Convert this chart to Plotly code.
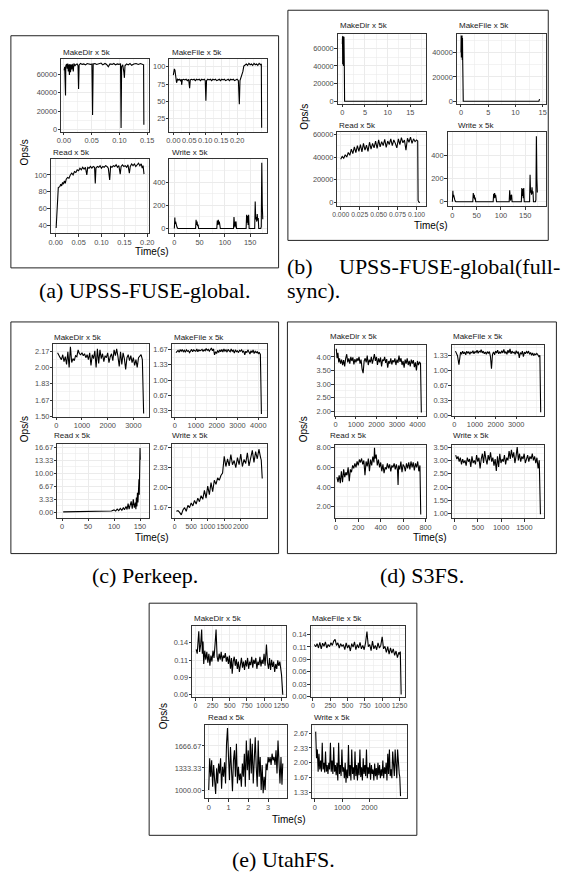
import plotly.graph_objects as go

W, H = 567, 880

# ======================= DATA (time, ops/s) =======================
# (a) UPSS-FUSE-global
A_MAKEDIR = [(0.0005,64000),(0.0015,68000),(0.003,37000),(0.0035,69000),(0.005,71000),(0.006,66000),(0.007,71500),
             (0.008,63000),(0.009,70500),(0.010,59000),(0.011,71000),(0.012,62000),(0.013,70000),(0.014,65000),
             (0.015,71000),(0.017,63000),(0.018,71500),(0.020,69000),(0.022,70500),(0.024,71000),(0.0255,69000),
             (0.0265,44000),(0.0275,70000),(0.030,71500),(0.033,70500),(0.036,71000),(0.039,70000),(0.042,71500),
             (0.045,71000),(0.048,70500),(0.0505,71000),(0.0517,16000),(0.0528,71000),(0.056,71500),(0.059,70500),
             (0.063,71000),(0.067,72000),(0.070,70000),(0.074,71500),(0.077,70500),(0.080,68000),(0.083,71000),
             (0.087,70500),(0.090,71500),(0.093,70000),(0.096,71000),(0.099,70500),(0.102,71000),(0.103,1800),
             (0.104,68000),(0.106,70000),(0.108,62000),(0.109,56000),(0.110,69000),(0.113,71000),(0.116,70000),
             (0.119,71500),(0.122,69500),(0.126,71000),(0.130,71500),(0.134,70500),(0.138,71500),(0.142,71000),
             (0.1435,70000),(0.144,5400)]
A_MAKEFILE = [(0.000,88),(0.002,92),(0.003,97),(0.005,95),(0.008,82),(0.010,77),(0.013,82),(0.016,81),(0.019,82),
              (0.022,80),(0.025,82),(0.026,74),(0.028,81),(0.032,82),(0.036,81),(0.040,82),(0.044,80),(0.048,82),
              (0.051,69),(0.053,81),(0.057,82),(0.061,81),(0.065,82),(0.069,80),(0.073,82),(0.077,81),(0.081,82),
              (0.085,80),(0.089,82),(0.093,81),(0.097,82),(0.100,80),(0.102,51),(0.104,80),(0.108,82),(0.112,81),
              (0.116,82),(0.120,80),(0.124,82),(0.128,81),(0.132,82),(0.136,80),(0.140,81),(0.144,82),(0.148,80),
              (0.152,82),(0.156,81),(0.160,82),(0.164,80),(0.168,81),(0.172,82),(0.176,80),(0.180,82),(0.184,81),
              (0.188,82),(0.192,80),(0.196,81),(0.200,82),(0.204,80),(0.207,46),(0.209,80),(0.212,84),(0.215,86),
              (0.218,93),(0.221,101),(0.225,103),(0.229,104),(0.233,102),(0.237,105),(0.241,103),(0.245,104),
              (0.249,102),(0.253,105),(0.257,103),(0.261,104),(0.265,102),(0.269,105),(0.273,103),(0.276,104),
              (0.277,12)]
A_READ = [(0.001,37),(0.004,60),(0.0057,85),(0.009,86),(0.011,89),(0.013,87),(0.015,91),(0.017,89),(0.019,93),
          (0.021,90),(0.023,95),(0.026,97),(0.029,96),(0.032,100),(0.035,102),(0.038,100),(0.041,104),(0.044,103),
          (0.047,106),(0.050,105),(0.053,108),(0.056,106),(0.059,109),(0.062,107),(0.065,109),(0.068,100),
          (0.070,109),(0.073,108),(0.076,110),(0.079,108),(0.082,110),(0.085,109),(0.0865,90),(0.088,108),
          (0.091,110),(0.094,109),(0.097,111),(0.100,108),(0.103,110),(0.106,109),(0.109,111),(0.112,110),
          (0.115,108),(0.118,94),(0.120,110),(0.123,109),(0.126,111),(0.129,110),(0.132,112),(0.135,109),
          (0.138,111),(0.141,101),(0.143,110),(0.146,112),(0.149,110),(0.152,111),(0.155,109),(0.158,112),
          (0.161,102),(0.163,110),(0.166,113),(0.169,111),(0.172,113),(0.175,110),(0.178,112),(0.181,114),
          (0.184,111),(0.187,113),(0.189,108),(0.191,111),(0.193,101)]
A_WRITE = [(0,0),(1,95),(1.5,40),(2.5,60),(3.5,25),(5,15),(6,5),(7,0),(42,0),(43,75),(44,30),(45,60),(46,20),
           (47,35),(48,0),(84,0),(85,70),(86,30),(87,75),(88,35),(89,60),(90,20),(91,0),(117,0),(118,100),
           (119,40),(120,10),(121,55),(122,60),(123,0),(142,0),(143,120),(144,50),(145,110),(146,30),(147,120),
           (148,0),(159,0),(160,235),(161,80),(162,100),(163,60),(164,125),(165,70),(166,90),(167,0),(171,0),
           (172,15),(173,570),(174,200),(175,80)]

# (b) UPSS-FUSE-global(full-sync)
B_MAKEDIR = [(0.00,65000),(0.04,73500),(0.08,42000),(0.12,74000),(0.16,50000),(0.20,72500),(0.24,40000),
             (0.28,71000),(0.32,45000),(0.36,73000),(0.40,58000),(0.44,38000),(0.50,0),(17.5,0),(17.6,1200),
             (17.65,800)]
B_MAKEFILE = [(0.00,40000),(0.04,54000),(0.08,36000),(0.12,53500),(0.16,38000),(0.20,54000),(0.24,34000),
              (0.28,52000),(0.32,33500),(0.36,9000),(0.42,0),(14.3,0),(14.4,1500),(14.45,1200)]
B_READ = [(0.000,38000),(0.002,40500),(0.004,39000),(0.006,42000),(0.008,40000),(0.010,44000),(0.012,41500),
          (0.014,47000),(0.016,43000),(0.018,49000),(0.020,44000),(0.022,50000),(0.024,45000),(0.026,51000),
          (0.028,44500),(0.030,52000),(0.032,46000),(0.034,50500),(0.036,45000),(0.038,53000),(0.040,47000),
          (0.042,52000),(0.044,48000),(0.046,54000),(0.048,47500),(0.050,55000),(0.052,49000),(0.054,53500),
          (0.056,50000),(0.058,55500),(0.060,48500),(0.062,54000),(0.064,51000),(0.066,56000),(0.068,50000),
          (0.070,55000),(0.072,52000),(0.074,48000),(0.076,56000),(0.078,51000),(0.080,57000),(0.082,52500),
          (0.084,55000),(0.086,46000),(0.088,56500),(0.090,53000),(0.092,57500),(0.094,52000),(0.096,56000),
          (0.098,53500),(0.100,55000),(0.1015,54000),(0.1020,2000),(0.1030,500),(0.1045,300)]
B_WRITE = A_WRITE

# (c) Perkeep
C_MAKEDIR = [(50,2.15),(100,2.12),(150,2.10),(200,2.08),(250,2.13),(300,2.06),(350,2.11),(400,2.03),(450,2.16),
             (500,2.00),(550,2.21),(600,2.05),(650,2.09),(700,2.07),(750,2.12),(800,2.11),(850,2.18),(900,2.14),
             (950,2.13),(1000,2.15),(1050,2.12),(1100,2.14),(1150,2.10),(1200,2.13),(1250,2.08),(1300,2.15),
             (1350,2.02),(1400,2.13),(1450,2.09),(1500,2.17),(1550,2.00),(1600,2.19),(1650,2.04),(1700,2.18),
             (1750,2.09),(1800,2.14),(1850,2.06),(1900,2.12),(1950,2.10),(2000,2.15),(2050,2.05),(2100,2.11),
             (2150,2.14),(2200,2.07),(2250,2.18),(2300,2.12),(2350,2.19),(2400,2.11),(2450,2.01),(2500,2.16),
             (2550,2.03),(2600,2.15),(2650,2.09),(2700,1.98),(2750,2.10),(2800,2.13),(2850,2.07),(2900,2.12),
             (2950,2.05),(3000,2.10),(3050,2.02),(3100,2.08),(3150,2.00),(3200,2.10),(3250,2.12),(3300,2.13),
             (3350,2.08),(3400,1.53)]
C_MAKEFILE = [(50,1.60),(100,1.62),(150,1.65),(200,1.61),(250,1.66),(300,1.63),(350,1.67),(400,1.62),(450,1.65),
              (500,1.61),(550,1.66),(600,1.63),(650,1.64),(700,1.60),(750,1.65),(800,1.67),(850,1.62),(900,1.66),
              (950,1.64),(1000,1.63),(1050,1.68),(1100,1.62),(1150,1.66),(1200,1.64),(1250,1.65),(1300,1.67),
              (1350,1.63),(1400,1.66),(1450,1.64),(1500,1.69),(1550,1.65),(1600,1.67),(1650,1.63),(1700,1.66),
              (1750,1.70),(1800,1.64),(1850,1.68),(1900,1.55),(1950,1.62),(2000,1.58),(2050,1.65),(2100,1.60),
              (2150,1.66),(2200,1.62),(2250,1.67),(2300,1.61),(2350,1.68),(2400,1.63),(2450,1.66),(2500,1.61),
              (2550,1.67),(2600,1.64),(2650,1.62),(2700,1.68),(2750,1.63),(2800,1.65),(2850,1.59),(2900,1.66),
              (2950,1.62),(3000,1.64),(3050,1.60),(3100,1.65),(3150,1.63),(3200,1.66),(3250,1.61),(3300,1.64),
              (3350,1.55),(3400,1.63),(3450,1.60),(3500,1.66),(3550,1.62),(3600,1.57),(3650,1.64),(3700,1.60),
              (3750,1.66),(3800,1.58),(3850,1.63),(3900,1.60),(3950,1.62),(4000,1.58),(4050,1.60),(4100,1.56),
              (4150,0.26)]
C_READ = [(2,0.10),(10,0.12),(20,0.15),(30,0.12),(40,0.18),(50,0.15),(60,0.20),(70,0.25),(75,0.20),(80,0.30),
          (85,0.25),(90,0.40),(95,0.30),(100,0.60),(103,0.30),(106,0.80),(109,0.40),(112,1.00),(115,0.50),
          (118,1.20),(120,0.60),(123,1.50),(125,0.70),(127,2.20),(129,0.80),(131,1.80),(133,2.80),(135,0.90),
          (137,3.30),(139,1.20),(141,2.50),(142,0.80),(143,3.80),(144,1.50),(145,5.00),(146,2.50),(147,7.00),
          (147.5,3.50),(148,8.50),(148.5,4.50),(149,16.0),(149.5,13.0),(150,16.5),(150.5,13.5)]
C_WRITE = [(50,1.60),(100,1.61),(150,1.58),(200,1.54),(250,1.62),(300,1.66),(350,1.60),(400,1.70),(450,1.66),
           (500,1.74),(550,1.69),(600,1.78),(650,1.72),(700,1.82),(750,1.76),(800,1.86),(850,1.80),(900,1.95),
           (950,1.82),(1000,2.02),(1050,1.88),(1100,2.08),(1150,1.93),(1200,2.12),(1250,2.05),(1300,2.16),
           (1350,2.12),(1400,2.20),(1450,2.24),(1500,2.52),(1550,2.35),(1600,2.48),(1650,2.36),(1700,2.55),
           (1750,2.38),(1800,2.45),(1850,2.33),(1900,2.50),(1950,2.38),(2000,2.56),(2050,2.35),(2100,2.47),
           (2150,2.40),(2200,2.58),(2250,2.36),(2300,2.50),(2350,2.62),(2400,2.42),(2450,2.60),(2500,2.48),
           (2550,2.64),(2600,2.50),(2620,2.46),(2650,2.15)]

# (d) S3FS
D_MAKEDIR = [(40,4.30),(80,3.95),(120,4.15),(160,3.80),(200,3.95),(250,3.75),(300,3.90),(350,3.70),(400,3.88),
             (450,3.65),(500,3.95),(550,4.10),(600,3.80),(650,3.95),(700,3.75),(750,4.00),(800,3.85),(850,3.98),
             (900,3.72),(950,3.92),(1000,3.80),(1050,3.95),(1100,3.85),(1150,4.00),(1200,3.75),(1250,3.90),
             (1300,3.55),(1350,3.40),(1400,3.85),(1450,3.95),(1500,3.80),(1550,4.05),(1600,3.70),(1650,3.90),
             (1700,3.80),(1750,4.00),(1800,3.75),(1850,3.95),(1900,4.10),(1950,3.85),(2000,4.00),(2050,3.70),
             (2100,3.95),(2150,3.80),(2200,3.98),(2250,3.65),(2300,3.90),(2350,3.85),(2400,4.00),(2450,3.78),
             (2500,3.92),(2550,3.60),(2600,3.85),(2650,3.75),(2700,3.95),(2750,3.72),(2800,3.88),(2850,3.80),
             (2900,3.95),(2950,3.70),(3000,3.90),(3050,3.78),(3100,4.05),(3150,3.82),(3200,3.95),(3250,3.70),
             (3300,3.85),(3350,3.60),(3400,3.90),(3450,3.75),(3500,3.95),(3550,3.70),(3600,3.85),(3650,3.65),
             (3700,3.90),(3750,3.75),(3800,3.88),(3850,3.62),(3900,3.80),(3950,3.50),(4000,3.85),(4050,3.70),
             (4100,3.82),(4150,3.75),(4190,1.95)]
D_MAKEFILE = [(50,1.42),(100,1.38),(150,1.32),(220,1.12),(250,1.30),(300,1.40),(350,1.35),(400,1.42),(450,1.36),
              (500,1.40),(550,1.34),(600,1.42),(650,1.37),(700,1.41),(750,1.35),(800,1.40),(850,1.38),(900,1.43),
              (950,1.36),(1000,1.41),(1050,1.39),(1100,1.44),(1150,1.37),(1200,1.42),(1250,1.40),(1300,1.45),
              (1350,1.38),(1400,1.42),(1450,1.36),(1500,1.40),(1550,1.35),(1600,1.41),(1650,1.37),(1700,1.41),
              (1750,1.30),(1800,1.03),(1850,1.35),(1900,1.40),(1950,1.34),(2000,1.42),(2050,1.38),(2100,1.44),
              (2150,1.36),(2200,1.40),(2250,1.37),(2300,1.43),(2350,1.38),(2400,1.46),(2450,1.37),(2500,1.41),
              (2550,1.35),(2600,1.44),(2650,1.38),(2700,1.47),(2750,1.36),(2800,1.42),(2850,1.38),(2900,1.40),
              (2950,1.35),(3000,1.43),(3050,1.37),(3100,1.41),(3150,1.27),(3200,1.39),(3250,1.35),(3300,1.42),
              (3350,1.30),(3400,1.40),(3450,1.36),(3500,1.41),(3550,1.38),(3600,1.42),(3650,1.35),(3700,1.39),
              (3750,1.33),(3800,1.38),(3850,1.32),(3900,1.36),(3950,1.34),(4000,1.37),(4050,1.34),(4100,1.30),
              (4150,1.33),(4190,0.07)]
D_READ = [(10,5.0),(20,4.5),(30,5.2),(40,4.4),(50,5.6),(60,4.5),(70,5.8),(80,5.0),(90,5.5),(100,5.2),(110,6.0),
          (120,4.6),(130,5.8),(140,5.5),(150,6.2),(160,5.9),(170,6.4),(180,6.0),(190,6.6),(200,6.2),(210,6.8),
          (220,6.5),(230,6.9),(240,6.3),(250,6.7),(260,5.2),(270,6.6),(280,6.1),(290,6.9),(300,5.6),(310,6.8),
          (320,6.2),(330,7.1),(340,6.5),(345,8.0),(350,6.9),(360,7.3),(370,6.2),(380,6.8),(390,6.0),(400,6.5),
          (410,5.6),(420,6.3),(430,5.4),(440,6.0),(450,5.8),(460,6.4),(470,5.9),(480,6.3),(490,5.6),(500,6.2),
          (510,6.0),(520,6.4),(530,5.8),(540,6.3),(550,5.7),(555,4.2),(560,6.2),(570,5.8),(580,6.6),(590,5.5),
          (600,6.3),(610,6.1),(620,5.6),(630,6.4),(640,5.9),(650,6.5),(660,5.8),(670,6.6),(680,6.0),(690,6.5),
          (700,5.7),(710,6.4),(720,6.0),(730,6.6),(740,5.6),(750,6.2),(757,1.2)]
D_WRITE = [(20,3.20),(45,3.05),(70,3.15),(95,2.95),(120,3.10),(145,2.85),(170,3.05),(195,2.90),(220,3.00),
           (245,2.80),(270,3.10),(295,2.95),(320,3.05),(345,2.75),(370,3.15),(395,2.90),(420,3.00),(445,2.85),
           (470,3.20),(495,2.95),(520,3.10),(545,2.70),(570,3.05),(595,3.25),(620,2.90),(645,3.35),(670,3.05),
           (695,2.85),(720,3.20),(745,3.00),(770,3.30),(795,2.95),(820,3.10),(845,2.80),(870,3.05),(895,2.60),
           (920,3.15),(945,2.75),(970,3.25),(995,2.90),(1020,3.05),(1045,2.95),(1070,3.20),(1095,2.85),
           (1120,3.10),(1145,3.00),(1170,3.35),(1195,3.05),(1220,3.40),(1245,3.10),(1270,3.30),(1295,2.90),
           (1320,3.15),(1345,3.50),(1370,3.00),(1395,3.25),(1420,2.95),(1445,3.15),(1470,3.05),(1495,3.25),
           (1520,2.90),(1545,3.10),(1570,3.20),(1595,2.95),(1620,3.15),(1645,3.05),(1670,3.25),(1695,3.00),
           (1720,3.15),(1745,2.90),(1770,3.10),(1795,2.70),(1820,3.00),(1845,0.98)]

# (e) UtahFS
E_MAKEDIR = [(10,0.132),(25,0.125),(40,0.150),(48,0.162),(60,0.128),(75,0.140),(90,0.165),(100,0.125),(110,0.145),
             (120,0.108),(135,0.130),(150,0.115),(165,0.128),(180,0.110),(195,0.125),(210,0.105),(225,0.122),
             (240,0.112),(255,0.130),(270,0.118),(285,0.140),(300,0.165),(315,0.120),(330,0.112),(345,0.125),
             (360,0.115),(375,0.128),(390,0.112),(405,0.122),(420,0.118),(435,0.126),(450,0.112),(465,0.120),
             (480,0.108),(495,0.122),(510,0.100),(525,0.118),(535,0.092),(550,0.112),(565,0.120),(580,0.105),
             (595,0.116),(610,0.100),(625,0.112),(640,0.095),(655,0.108),(670,0.118),(685,0.102),(700,0.112),
             (715,0.098),(730,0.114),(745,0.104),(760,0.118),(775,0.100),(790,0.112),(805,0.106),(820,0.120),
             (835,0.102),(850,0.115),(865,0.108),(880,0.118),(895,0.100),(910,0.112),(925,0.106),(940,0.120),
             (955,0.104),(970,0.115),(985,0.108),(1000,0.125),(1015,0.105),(1035,0.140),(1050,0.110),(1065,0.100),
             (1080,0.118),(1095,0.098),(1110,0.115),(1125,0.103),(1140,0.112),(1155,0.095),(1170,0.108),
             (1185,0.100),(1200,0.114),(1215,0.105),(1230,0.112),(1245,0.098),(1255,0.090),(1273,0.057)]
E_MAKEFILE = [(20,0.120),(40,0.115),(60,0.122),(80,0.112),(100,0.125),(120,0.110),(140,0.123),(160,0.116),
              (180,0.126),(200,0.112),(220,0.120),(240,0.115),(260,0.124),(280,0.118),(300,0.128),(320,0.132),
              (340,0.118),(360,0.124),(380,0.112),(400,0.122),(420,0.116),(440,0.120),(460,0.108),(480,0.124),
              (500,0.112),(520,0.119),(540,0.105),(560,0.122),(580,0.114),(600,0.126),(620,0.108),(640,0.120),
              (660,0.112),(680,0.125),(700,0.110),(720,0.118),(740,0.108),(760,0.124),(780,0.150),(800,0.115),
              (820,0.120),(840,0.106),(860,0.128),(880,0.110),(900,0.118),(920,0.108),(940,0.124),(960,0.112),
              (980,0.118),(1000,0.138),(1020,0.110),(1040,0.116),(1060,0.102),(1080,0.115),(1100,0.098),
              (1120,0.112),(1140,0.100),(1160,0.110),(1180,0.095),(1200,0.105),(1220,0.090),(1240,0.102),
              (1255,0.097),(1262,0.104),(1274,0.005)]
E_READ = [(0.00,1000),(0.05,1480),(0.10,1200),(0.15,1450),(0.20,1050),(0.25,1380),(0.30,1150),(0.35,940),
          (0.40,1330),(0.45,1100),(0.50,1400),(0.55,1250),(0.60,1480),(0.65,1020),(0.70,1350),(0.75,1200),
          (0.80,1420),(0.85,1100),(0.90,1700),(0.95,1940),(1.00,1500),(1.05,1150),(1.10,1650),(1.15,1300),
          (1.20,980),(1.25,1450),(1.30,1600),(1.35,1200),(1.40,1700),(1.45,1100),(1.50,1350),(1.55,1150),
          (1.60,1250),(1.65,1050),(1.70,1400),(1.75,1200),(1.80,1550),(1.85,1050),(1.90,1750),(1.95,1300),
          (2.00,1600),(2.05,1150),(2.10,1780),(2.15,1250),(2.20,1700),(2.25,1100),(2.30,1600),(2.35,1800),
          (2.40,1350),(2.45,1050),(2.50,1750),(2.55,1200),(2.60,1500),(2.65,1000),(2.70,1380),(2.75,950),
          (2.80,1200),(2.85,1000),(2.90,1400),(2.95,1300),(3.00,1500),(3.05,1420),(3.10,1500),(3.15,1380),
          (3.20,1550),(3.25,1450),(3.30,1500),(3.35,1380),(3.40,1600),(3.45,1250),(3.50,1750),(3.55,1450),
          (3.60,1100),(3.65,1500),(3.70,1080),(3.74,1400)]
E_WRITE = [(30,2.70),(60,2.10),(90,2.30),(120,1.80),(150,2.20),(180,1.85),(210,2.05),(240,1.80),(270,2.45),
           (300,1.85),(330,2.00),(360,1.78),(390,2.25),(420,1.80),(450,1.95),(480,1.75),(510,2.00),(540,1.85),
           (570,2.45),(600,1.80),(630,2.05),(660,1.75),(690,2.35),(720,1.80),(750,1.95),(780,1.72),(810,2.00),
           (840,1.60),(870,2.45),(900,1.75),(930,1.95),(960,1.70),(990,2.30),(1020,1.80),(1050,1.90),(1080,1.65),
           (1110,2.00),(1140,1.55),(1170,1.85),(1200,1.65),(1230,2.40),(1260,1.70),(1290,1.95),(1320,1.60),
           (1350,2.30),(1380,1.75),(1410,1.90),(1440,1.62),(1470,2.25),(1500,1.70),(1530,1.95),(1560,1.60),
           (1590,2.00),(1620,1.72),(1650,2.30),(1680,1.68),(1710,1.90),(1740,1.60),(1770,2.10),(1800,1.75),
           (1830,1.95),(1860,1.70),(1890,2.30),(1920,1.65),(1950,1.90),(1980,1.75),(2010,2.00),(2040,1.62),
           (2070,1.95),(2100,1.75),(2130,1.85),(2160,1.60),(2190,1.98),(2220,1.70),(2250,1.88),(2280,1.62),
           (2310,2.00),(2340,1.72),(2370,1.95),(2400,1.65),(2430,1.85),(2460,1.70),(2490,2.05),(2520,1.65),
           (2550,1.90),(2580,1.75),(2610,2.00),(2640,1.60),(2670,2.20),(2700,1.75),(2730,2.30),(2760,1.70),
           (2790,1.85),(2820,1.65),(2850,2.25),(2880,1.80),(2910,1.70),(2940,2.30),(2970,1.85),(3000,1.65),
           (3030,2.30),(3060,1.80),(3090,1.75),(3110,1.68),(3137,1.25)]

# ======================= TICK VALUES / LABELS =======================
TK_A_MD_X = ([0, 0.05, 0.10, 0.15], ["0.00", "0.05", "0.10", "0.15"])
TK_A_MD_Y = ([0, 20000, 40000, 60000], ["0", "20000", "40000", "60000"])
TK_A_MF_X = ([0, 0.05, 0.10, 0.15, 0.20], ["0.00", "0.05", "0.10", "0.15", "0.20"])
TK_A_MF_Y = ([25, 50, 75, 100], ["25", "50", "75", "100"])
TK_A_RD_X = ([0, 0.05, 0.10, 0.15, 0.20], ["0.00", "0.05", "0.10", "0.15", "0.20"])
TK_A_RD_Y = ([40, 60, 80, 100], ["40", "60", "80", "100"])
TK_W_X = ([0, 50, 100, 150], ["0", "50", "100", "150"])
TK_W_Y = ([0, 200, 400], ["0", "200", "400"])
TK_B_MD_X = ([0, 5, 10, 15], ["0", "5", "10", "15"])
TK_B_MF_Y = ([0, 20000, 40000], ["0", "20000", "40000"])
TK_B_RD_X = ([0, 0.025, 0.05, 0.075, 0.1], ["0.000", "0.025", "0.050", "0.075", "0.100"])
TK_C_MD_X = ([0, 1000, 2000, 3000], ["0", "1000", "2000", "3000"])
TK_C_MD_Y = ([1.5, 1.6667, 1.8333, 2.0, 2.1667], ["1.50", "1.67", "1.83", "2.00", "2.17"])
TK_C_MF_X = ([0, 1000, 2000, 3000, 4000], ["0", "1000", "2000", "3000", "4000"])
TK_C_MF_Y = ([0.3333, 0.6667, 1.0, 1.3333, 1.6667], ["0.33", "0.67", "1.00", "1.33", "1.67"])
TK_C_RD_X = ([0, 50, 100, 150], ["0", "50", "100", "150"])
TK_C_RD_Y = ([0, 3.3333, 6.6667, 10, 13.3333, 16.6667], ["0.00", "3.33", "6.67", "10.00", "13.33", "16.67"])
TK_C_WR_X = ([0, 500, 1000, 1500, 2000], ["0", "500", "1000", "1500", "2000"])
TK_C_WR_Y = ([1.6667, 2.0, 2.3333, 2.6667], ["1.67", "2.00", "2.33", "2.67"])
TK_D_MD_X = ([0, 1000, 2000, 3000, 4000], ["0", "1000", "2000", "3000", "4000"])
TK_D_MD_Y = ([2.0, 2.5, 3.0, 3.5, 4.0], ["2.00", "2.50", "3.00", "3.50", "4.00"])
TK_D_MF_X = ([0, 1000, 2000, 3000], ["0", "1000", "2000", "3000"])
TK_D_MF_Y = ([0, 0.3333, 0.6667, 1.0, 1.3333], ["0.00", "0.33", "0.67", "1.00", "1.33"])
TK_D_RD_X = ([0, 200, 400, 600, 800], ["0", "200", "400", "600", "800"])
TK_D_RD_Y = ([2, 4, 6, 8], ["2.00", "4.00", "6.00", "8.00"])
TK_D_WR_X = ([0, 500, 1000, 1500], ["0", "500", "1000", "1500"])
TK_D_WR_Y = ([1.0, 1.5, 2.0, 2.5, 3.0, 3.5], ["1.00", "1.50", "2.00", "2.50", "3.00", "3.50"])
TK_E_MD_X = ([0, 250, 500, 750, 1000, 1250], ["0", "250", "500", "750", "1000", "1250"])
TK_E_MD_Y = ([0.0571, 0.0857, 0.1143, 0.1429], ["0.06", "0.09", "0.11", "0.14"])
TK_E_MF_Y = ([0, 0.0286, 0.0571, 0.0857, 0.1143, 0.1429], ["0.00", "0.03", "0.06", "0.09", "0.11", "0.14"])
TK_E_RD_X = ([0, 1, 2, 3], ["0", "1", "2", "3"])
TK_E_RD_Y = ([1000, 1333.33, 1666.67], ["1000.00", "1333.33", "1666.67"])
TK_E_WR_X = ([0, 1000, 2000], ["0", "1000", "2000"])
TK_E_WR_Y = ([1.3333, 1.6667, 2.0, 2.3333, 2.6667], ["1.33", "1.67", "2.00", "2.33", "2.67"])

# ======================= PANEL LAYOUT (pixel boxes, ranges) =======================
PANELS = [
    # (a)
    dict(d=A_MAKEDIR, title="MakeDir x 5k", tpos=(57, 49.5), box=(57.3, 56, 146.7, 130),
         xr=[-0.0048, 0.153], yr=[-2464, 76820], xt=TK_A_MD_X, yt=TK_A_MD_Y, mn=(0.025, 10000)),
    dict(d=A_MAKEFILE, title="MakeFile x 5k", tpos=(168, 49.5), box=(167.7, 56, 266.7, 130),
         xr=[-0.0123, 0.2923], yr=[5.96, 111.9], xt=TK_A_MF_X, yt=TK_A_MF_Y, mn=(0.025, 12.5)),
    dict(d=A_READ, title="Read x 5k", tpos=(46.7, 150.5), box=(46.7, 157.7, 146.7, 232.3),
         xr=[-0.0107, 0.2036], yr=[30.6, 118.35], xt=TK_A_RD_X, yt=TK_A_RD_Y, mn=(0.025, 10)),
    dict(d=A_WRITE, title="Write x 5k", tpos=(168.3, 150.5), box=(167.7, 157.7, 266.7, 232.3),
         xr=[-9.7, 182.4], yr=[-43, 599], xt=TK_W_X, yt=TK_W_Y, mn=(25, 100)),
    # (b)
    dict(d=B_MAKEDIR, title="MakeDir x 5k", tpos=(339.7, 23), box=(339.3, 31.7, 429, 101.7),
         xr=[-1.02, 18.4], yr=[-3040, 75760], xt=TK_B_MD_X, yt=TK_A_MD_Y, mn=(2.5, 10000)),
    dict(d=B_MAKEFILE, title="MakeFile x 5k", tpos=(461, 23), box=(460.7, 31.7, 551.7, 101.7),
         xr=[-0.77, 15.6], yr=[-2204, 54940], xt=TK_B_MD_X, yt=TK_B_MF_Y, mn=(2.5, 10000)),
    dict(d=B_READ, title="Read x 5k", tpos=(338.5, 123), box=(339, 130, 429.7, 205),
         xr=[-0.0043, 0.1129], yr=[-3217, 62000], xt=TK_B_RD_X, yt=TK_A_MD_Y, mn=(0.0125, 10000), xfs=6.8),
    dict(d=B_WRITE, title="Write x 5k", tpos=(459.7, 123), box=(451.3, 130, 551.3, 205),
         xr=[-10, 192], yr=[-40.6, 607], xt=TK_W_X, yt=TK_W_Y, mn=(25, 100)),
    # (c)
    dict(d=C_MAKEDIR, title="MakeDir x 5k", tpos=(48.3, 336.7), box=(49.3, 344, 146.7, 417),
         xr=[-115, 3603], yr=[1.497, 2.237], xt=TK_C_MD_X, yt=TK_C_MD_Y, mn=(500, 0.08333)),
    dict(d=C_MAKEFILE, title="MakeFile x 5k", tpos=(170, 336.7), box=(170, 344, 266.7, 417),
         xr=[-155, 4395], yr=[0.203, 1.782], xt=TK_C_MF_X, yt=TK_C_MF_Y, mn=(500, 0.16667)),
    dict(d=C_READ, title="Read x 5k", tpos=(48.3, 435.5), box=(53.3, 445, 146.7, 519),
         xr=[-9.4, 167], yr=[-1.45, 17.43], xt=TK_C_RD_X, yt=TK_C_RD_Y, mn=(25, 1.66667)),
    dict(d=C_WRITE, title="Write x 5k", tpos=(168.3, 435.5), box=(170, 445, 266.7, 519),
         xr=[-90, 2780], yr=[1.489, 2.72], xt=TK_C_WR_X, yt=TK_C_WR_Y, mn=(250, 0.16667), xfs=6.9),
    # (d)
    dict(d=D_MAKEDIR, title="MakeDir x 5k", tpos=(329.7, 336.5), box=(336.3, 344.3, 429, 416),
         xr=[-33, 4402], yr=[1.83, 4.456], xt=TK_D_MD_X, yt=TK_D_MD_Y, mn=(500, 0.25)),
    dict(d=D_MAKEFILE, title="MakeFile x 5k", tpos=(454.7, 336.5), box=(455.7, 344.3, 549.7, 416),
         xr=[-124, 4352], yr=[-0.005, 1.565], xt=TK_D_MF_X, yt=TK_D_MF_Y, mn=(500, 0.16667)),
    dict(d=D_READ, title="Read x 5k", tpos=(329.7, 435.5), box=(336.3, 446, 429, 519.3),
         xr=[-9, 801], yr=[0.83, 8.23], xt=TK_D_RD_X, yt=TK_D_RD_Y, mn=(100, 1)),
    dict(d=D_WRITE, title="Write x 5k", tpos=(454.7, 435.5), box=(455.7, 446, 549.7, 519.3),
         xr=[-63, 1923], yr=[0.83, 3.56], xt=TK_D_WR_X, yt=TK_D_WR_Y, mn=(250, 0.25)),
    # (e)
    dict(d=E_MAKEDIR, title="MakeDir x 5k", tpos=(190.7, 620.7), box=(190.7, 628.3, 286.7, 700),
         xr=[-51, 1322], yr=[0.0527, 0.1703], xt=TK_E_MD_X, yt=TK_E_MD_Y, mn=(125, 0.014286), xfs=7.0),
    dict(d=E_MAKEFILE, title="MakeFile x 5k", tpos=(311.5, 620.7), box=(311.7, 628.3, 408.3, 700),
         xr=[-33, 1335], yr=[-0.002, 0.162], xt=TK_E_MD_X, yt=TK_E_MF_Y, mn=(125, 0.014286), xfs=7.0),
    dict(d=E_READ, title="Read x 5k", tpos=(205, 720.7), box=(204.3, 727.3, 287.7, 801.7),
         xr=[-0.17, 3.96], yr=[874, 1992], xt=TK_E_RD_X, yt=TK_E_RD_Y, mn=(0.5, 166.667)),
    dict(d=E_WRITE, title="Write x 5k", tpos=(313.3, 720.7), box=(313.3, 727.3, 410, 801.7),
         xr=[-97, 3376], yr=[1.2, 2.86], xt=TK_E_WR_X, yt=TK_E_WR_Y, mn=(500, 0.16667)),
]

BOXES = [(6, 33, 279, 267), (288.5, 7.3, 554, 239.3), (6, 321.5, 279, 555), (288, 321.5, 562.3, 555),
         (147, 605, 420, 839)]
YLABELS = [(20, 151), (304.7, 115), (20, 430), (304.7, 430), (161, 719)]
XLABELS = [(150, 250.5), (434, 224), (150, 538.5), (433, 538.5), (290, 823)]


def px(x):
    return x / W


def py(y):
    return 1 - y / H


SANS = "Liberation Sans, Arial, Helvetica, sans-serif"
SERIF = "Liberation Serif"
GRID = "#ebebeb"
BORDER = "#333333"
TICK_FS = 7.4

fig = go.Figure()
annotations = []
for i, p in enumerate(PANELS, start=1):
    sx = "" if i == 1 else str(i)
    ts = [a for a, b in p["d"]]
    vs = [b for a, b in p["d"]]
    fig.add_trace(go.Scatter(x=ts, y=vs, mode="lines", line=dict(color="black", width=1.1),
                             xaxis="x" + sx, yaxis="y" + sx, showlegend=False, hoverinfo="skip"))
    l, t, r, b = p["box"]
    common = dict(showline=True, mirror=True, linecolor=BORDER, linewidth=1, ticks="outside", ticklen=2.5,
                  tickwidth=1, tickcolor=BORDER, showgrid=True, gridcolor=GRID, gridwidth=1, zeroline=False,
                  tickmode="array", fixedrange=True, tickangle=0, ticklabelstandoff=-1)
    fig.layout["xaxis" + sx] = dict(domain=[px(l), px(r)], range=p["xr"], tickvals=p["xt"][0],
                                    ticktext=p["xt"][1], anchor="y" + sx,
                                    tickfont=dict(family=SANS, size=p.get("xfs", TICK_FS), color="#4d4d4d"),
                                    minor=dict(tickmode="linear", tick0=0, dtick=p["mn"][0], showgrid=True,
                                               gridcolor=GRID, gridwidth=0.6, ticklen=0),
                                    **common)
    fig.layout["yaxis" + sx] = dict(domain=[py(b), py(t)], range=p["yr"], tickvals=p["yt"][0],
                                    ticktext=p["yt"][1], anchor="x" + sx,
                                    tickfont=dict(family=SANS, size=TICK_FS, color="#4d4d4d"),
                                    minor=dict(tickmode="linear", tick0=0, dtick=p["mn"][1], showgrid=True,
                                               gridcolor=GRID, gridwidth=0.6, ticklen=0),
                                    **common)
    annotations.append(dict(x=px(p["tpos"][0]), y=py(p["tpos"][1]), xref="paper", yref="paper",
                            text=p["title"], showarrow=False, xanchor="left", yanchor="middle",
                            font=dict(family=SANS, size=8, color="#1a1a1a")))

for (x, y) in YLABELS:
    annotations.append(dict(x=px(x), y=py(y), xref="paper", yref="paper", text="Ops/s", showarrow=False,
                            textangle=-90, xanchor="center", yanchor="middle",
                            font=dict(family=SANS, size=10, color="black")))
for (x, y) in XLABELS:
    annotations.append(dict(x=px(x), y=py(y), xref="paper", yref="paper", text="Time(s)", showarrow=False,
                            xanchor="center", yanchor="middle", font=dict(family=SANS, size=10, color="black")))

CAP = dict(family=SERIF, size=22, color="black")
captions = [
    ("(a) UPSS-FUSE-global.", 142.5, 290, "center"),
    ("(b)", 287, 266, "left"),
    ("UPSS-FUSE-global(full-", 567, 266, "right"),
    ("sync).", 287, 290, "left"),
    ("(c) Perkeep.", 142.5, 577, "center"),
    ("(d) S3FS.", 425, 577, "center"),
    ("(e) UtahFS.", 283.5, 863, "center"),
]
for txt, x, y, anc in captions:
    annotations.append(dict(x=px(x), y=py(y), xref="paper", yref="paper", text=txt, showarrow=False,
                            xanchor=anc, yanchor="middle", font=CAP, borderpad=0))

shapes = []
for (l, t, r, b) in BOXES:
    shapes.append(dict(type="rect", xref="paper", yref="paper", x0=px(l), x1=px(r), y0=py(b), y1=py(t),
                       line=dict(color="#222222", width=1), fillcolor="rgba(0,0,0,0)", layer="below"))

fig.update_layout(width=W, height=H, margin=dict(l=0, r=0, t=0, b=0), paper_bgcolor="white",
                  plot_bgcolor="white", annotations=annotations, shapes=shapes, showlegend=False)

fig.write_html("out.html", config={"displayModeBar": False, "staticPlot": True},
               post_script="document.body.style.margin='0px';document.body.style.overflow='hidden';")
